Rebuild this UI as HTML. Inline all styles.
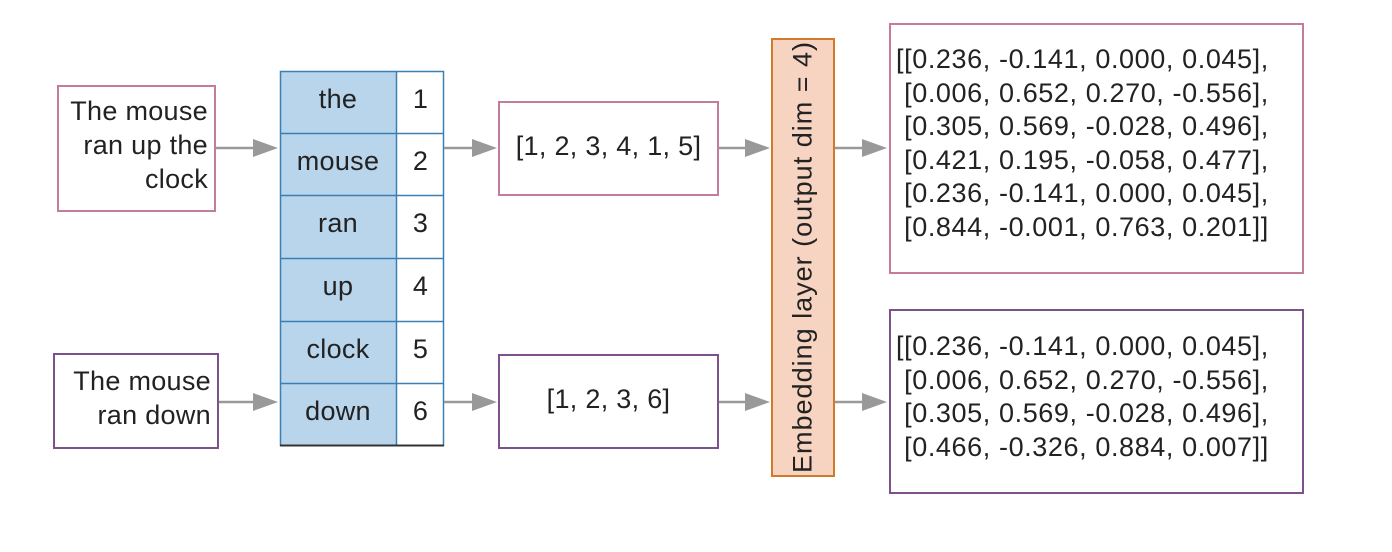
<!DOCTYPE html>
<html><head><style>
body{margin:0;width:1392px;height:552px;background:#fff;position:relative;font-family:"Liberation Sans",sans-serif;color:#222;overflow:hidden}
.b{position:absolute;box-sizing:border-box;background:#fff}
.t{position:absolute;font-size:27px;letter-spacing:0.3px}
.c{position:absolute;text-align:center;font-size:27px;line-height:62px;letter-spacing:0.3px}
.mat{font-size:27px;line-height:33.6px;white-space:pre;letter-spacing:0.6px}
</style></head><body>
<div class="b" style="left:57px;top:85px;width:159px;height:127px;border:2.5px solid #c47b9c"></div>
<div class="t" style="left:50px;top:94px;width:158px;text-align:right;line-height:34px">The mouse<br>ran up the<br>clock</div>
<div class="b" style="left:53px;top:353px;width:166px;height:96px;border:2.5px solid #7d5189"></div>
<div class="t" style="left:46px;top:364px;width:165px;text-align:right;line-height:34px">The mouse<br>ran down</div>

<svg width="1392" height="552" style="position:absolute;left:0;top:0">
<rect x="280.5" y="71.5" width="116" height="374" fill="#b9d5ec"/>
<g stroke="#3b7fb3" stroke-width="1.5" fill="none">
<rect x="280.5" y="71.5" width="163" height="374"/>
<path d="M396.5 71 V446"/>
<path d="M280 133.5 H444 M280 195.5 H444 M280 258.5 H444 M280 321.5 H444 M280 383.5 H444"/>
</g>
<path d="M280 445.5 H444" stroke="#333" stroke-width="2"/>
</svg>
<div class="c" style="left:280px;top:68px;width:116px">the</div><div class="c" style="left:397px;top:68px;width:47px">1</div>
<div class="c" style="left:280px;top:130px;width:116px">mouse</div><div class="c" style="left:397px;top:130px;width:47px">2</div>
<div class="c" style="left:280px;top:192px;width:116px">ran</div><div class="c" style="left:397px;top:192px;width:47px">3</div>
<div class="c" style="left:280px;top:255px;width:116px">up</div><div class="c" style="left:397px;top:255px;width:47px">4</div>
<div class="c" style="left:280px;top:318px;width:116px">clock</div><div class="c" style="left:397px;top:318px;width:47px">5</div>
<div class="c" style="left:280px;top:380px;width:116px">down</div><div class="c" style="left:397px;top:380px;width:47px">6</div>

<div class="b" style="left:498px;top:101px;width:221px;height:95px;border:2.5px solid #c47b9c"></div>
<div class="t" style="left:498px;top:131px;width:221px;text-align:center">[1, 2, 3, 4, 1, 5]</div>
<div class="b" style="left:498px;top:354px;width:221px;height:95px;border:2.5px solid #7d5189"></div>
<div class="t" style="left:498px;top:384px;width:221px;text-align:center">[1, 2, 3, 6]</div>

<div class="b" style="left:771px;top:38px;width:64px;height:439px;border:2.5px solid #d4782a;background:#f7d4c2"></div>
<div class="t" style="left:803px;top:257px;transform:translate(-50%,-50%) rotate(-90deg);white-space:nowrap;letter-spacing:1px">Embedding layer (output dim = 4)</div>

<div class="b" style="left:889px;top:23px;width:415px;height:251px;border:2.5px solid #c47b9c"></div>
<div class="t mat" style="left:896px;top:43px">[[0.236, -0.141, 0.000, 0.045],
 [0.006, 0.652, 0.270, -0.556],
 [0.305, 0.569, -0.028, 0.496],
 [0.421, 0.195, -0.058, 0.477],
 [0.236, -0.141, 0.000, 0.045],
 [0.844, -0.001, 0.763, 0.201]]</div>
<div class="b" style="left:889px;top:309px;width:415px;height:185px;border:2.5px solid #7d5189"></div>
<div class="t mat" style="left:896px;top:330px">[[0.236, -0.141, 0.000, 0.045],
 [0.006, 0.652, 0.270, -0.556],
 [0.305, 0.569, -0.028, 0.496],
 [0.466, -0.326, 0.884, 0.007]]</div>

<svg width="1392" height="552" style="position:absolute;left:0;top:0">
<g stroke="#999" stroke-width="2.5" fill="none">
<path d="M216 148 H255"/><path d="M219 402 H255"/>
<path d="M444 148 H474"/><path d="M444 402 H474"/>
<path d="M719 148 H747"/><path d="M719 402 H747"/>
<path d="M835 148 H864"/><path d="M835 402 H864"/>
</g>
<g fill="#999">
<path d="M253 139 L278 148 L253 157z"/><path d="M253 393 L278 402 L253 411z"/>
<path d="M472 139 L497 148 L472 157z"/><path d="M472 393 L497 402 L472 411z"/>
<path d="M745 139 L770 148 L745 157z"/><path d="M745 393 L770 402 L745 411z"/>
<path d="M862 139 L887 148 L862 157z"/><path d="M862 393 L887 402 L862 411z"/>
</g>
</svg>
</body></html>
